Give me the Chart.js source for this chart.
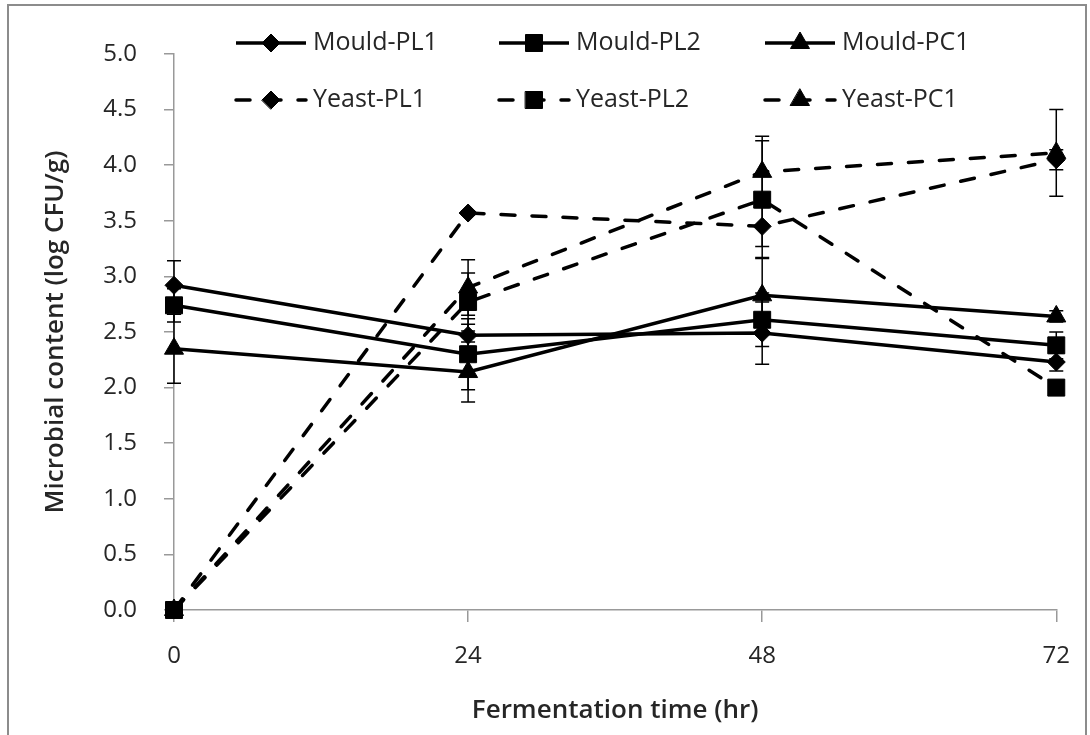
<!DOCTYPE html>
<html>
<head>
<meta charset="utf-8">
<title>Microbial content</title>
<script src="https://cdn.jsdelivr.net/npm/chart.js@4.4.1/dist/chart.umd.min.js"></script>
<style>
  body { margin: 0; background: #fff; }
  #wrap { position: absolute; left: 0; top: 0; width: 1090px; height: 735px; }
</style>
</head>
<body>
<div id="wrap"><canvas id="myChart" width="1090" height="735"></canvas></div>
<script>
// Data
const hours = [0, 24, 48, 72];
const yTicks = [0, 0.5, 1, 1.5, 2, 2.5, 3, 3.5, 4, 4.5, 5];

const mouldPL1 = [2.92, 2.47, 2.49, 2.23];
const mouldPL2 = [2.74, 2.30, 2.61, 2.38];
const mouldPC1 = [2.35, 2.14, 2.83, 2.64];
const yeastPL1 = [0, 3.57, 3.45, 4.05];
const yeastPL2 = [0, 2.77, 3.69, 2.00];
const yeastPC1 = [0, 2.90, 3.94, 4.11];

// error bars (+/-)
const mouldPL1Err = [0.22, 0.10, 0.28, 0.08];
const mouldPL2Err = [0.15, 0.32, 0.24, 0.12];
const mouldPC1Err = [0.31, 0.27, 0.34, 0.05];
const yeastPL1Err = [0, 0.02, 0.18, 0.09];
const yeastPL2Err = [0, 0.26, 0.53, 0.05];
const yeastPC1Err = [0, 0.25, 0.32, 0.39];

const seriesNames = ['Mould-PL1', 'Mould-PL2', 'Mould-PC1', 'Yeast-PL1', 'Yeast-PL2', 'Yeast-PC1'];

const FONT = "'Open Sans', 'Noto Sans', sans-serif";
const DASH = [14, 17];
const markers = {
    diamond: { pointStyle: 'rectRot', radius: 9 },
    square: { pointStyle: 'rect', radius: 12 },
    triangle: { pointStyle: 'triangle', radius: 11 }
};

function makeSet(name, values, errs, marker, dashed) {
    return {
        label: name,
        data: hours.map(function (h, i) { return { x: h, y: values[i] }; }),
        errors: errs,
        borderColor: '#000',
        backgroundColor: '#000',
        borderWidth: 3.5,
        borderDash: dashed ? DASH : [],
        borderCapStyle: dashed ? 'round' : 'butt',
        pointStyle: markers[marker].pointStyle,
        pointRadius: markers[marker].radius,
        pointHoverRadius: markers[marker].radius,
        pointBorderWidth: 1,
        pointBackgroundColor: '#000',
        pointBorderColor: '#000',
        tension: 0,
        fill: false,
        clip: false
    };
}

const datasets = [
    makeSet(seriesNames[0], mouldPL1, mouldPL1Err, 'diamond', false),
    makeSet(seriesNames[1], mouldPL2, mouldPL2Err, 'square', false),
    makeSet(seriesNames[2], mouldPC1, mouldPC1Err, 'triangle', false),
    makeSet(seriesNames[3], yeastPL1, yeastPL1Err, 'diamond', true),
    makeSet(seriesNames[4], yeastPL2, yeastPL2Err, 'square', true),
    makeSet(seriesNames[5], yeastPC1, yeastPC1Err, 'triangle', true)
];

// outer frame of the chart
const framePlugin = {
    id: 'frame',
    beforeDraw(chart) {
        const ctx = chart.ctx;
        ctx.save();
        ctx.fillStyle = '#fff';
        ctx.fillRect(0, 0, chart.width, chart.height);
        ctx.strokeStyle = '#8c8c8c';
        ctx.lineWidth = 2;
        ctx.strokeRect(8, 5, 1078, 745);
        ctx.restore();
    }
};

// vertical error bars with caps
const errorBarPlugin = {
    id: 'errorBars',
    beforeDatasetsDraw(chart) {
        const ctx = chart.ctx;
        const xs = chart.scales.x, ys = chart.scales.y;
        ctx.save();
        ctx.strokeStyle = '#000';
        ctx.lineWidth = 1.5;
        chart.data.datasets.forEach(function (ds) {
            ds.data.forEach(function (p, i) {
                const e = ds.errors[i];
                if (!e) return;
                const x = xs.getPixelForValue(p.x);
                const top = ys.getPixelForValue(p.y + e);
                const bot = ys.getPixelForValue(p.y - e);
                ctx.beginPath();
                ctx.moveTo(x, top); ctx.lineTo(x, bot);
                ctx.moveTo(x - 7, top); ctx.lineTo(x + 7, top);
                ctx.moveTo(x - 7, bot); ctx.lineTo(x + 7, bot);
                ctx.stroke();
            });
        });
        ctx.restore();
    }
};

// Excel style legend: line segment with marker, 3 columns x 2 rows
const legendPlugin = {
    id: 'excelLegend',
    afterDraw(chart) {
        const ctx = chart.ctx;
        const colX = [236, 499, 765];
        const rowY = [43, 100];
        const segLen = 70;
        ctx.save();
        chart.data.datasets.forEach(function (ds, i) {
            const x0 = colX[i % 3];
            const y = rowY[Math.floor(i / 3)];
            ctx.strokeStyle = '#000';
            ctx.lineWidth = ds.borderWidth;
            ctx.lineCap = ds.borderCapStyle;
            ctx.setLineDash(ds.borderDash);
            ctx.beginPath();
            ctx.moveTo(x0, y); ctx.lineTo(x0 + segLen, y);
            ctx.stroke();
            ctx.setLineDash([]);
            ctx.fillStyle = '#000';
            ctx.lineWidth = 1;
            Chart.helpers.drawPoint(ctx, {
                pointStyle: ds.pointStyle,
                radius: ds.pointRadius,
                rotation: 0,
                borderWidth: 1
            }, x0 + segLen / 2, y);
            ctx.fillStyle = '#262626';
            ctx.font = '25px ' + FONT;
            ctx.textBaseline = 'middle';
            ctx.textAlign = 'left';
            ctx.fillText(ds.label, x0 + segLen + 7, y);
        });
        ctx.restore();
    }
};

const config = {
    type: 'line',
    data: { datasets: datasets },
    options: {
        responsive: false,
        animation: false,
        events: [],
        layout: { padding: { left: 0, top: 54, right: 28, bottom: 0 } },
        plugins: {
            legend: { display: false },
            tooltip: { enabled: false }
        },
        scales: {
            x: {
                type: 'linear',
                min: 0,
                max: 72,
                afterFit(scale) { scale.height = 125; },
                afterBuildTicks(scale) { scale.ticks = hours.map(function (v) { return { value: v }; }); },
                ticks: {
                    color: '#262626',
                    font: { family: FONT, size: 24 },
                    padding: 20,
                    maxRotation: 0
                },
                grid: { drawOnChartArea: false, tickLength: 12, color: '#999', lineWidth: 1.5 },
                border: { color: '#999', width: 1.5 },
                title: {
                    display: true,
                    text: 'Fermentation time (hr)',
                    color: '#262626',
                    font: { family: FONT, size: 26, weight: '600' },
                    padding: { top: 0, bottom: 9 }
                }
            },
            y: {
                min: 0,
                max: 5,
                afterFit(scale) { scale.width = 174; },
                afterBuildTicks(scale) { scale.ticks = yTicks.map(function (v) { return { value: v }; }); },
                ticks: {
                    color: '#262626',
                    font: { family: FONT, size: 24 },
                    padding: 27,
                    callback: function (v) { return Number(v).toFixed(1); }
                },
                grid: { drawOnChartArea: false, tickLength: 10, color: '#999', lineWidth: 1.5 },
                border: { color: '#999', width: 1.5 },
                title: {
                    display: true,
                    text: 'Microbial content (log CFU/g)',
                    color: '#262626',
                    font: { family: FONT, size: 26, weight: '600' },
                    padding: { top: 40, bottom: 0 }
                }
            }
        }
    },
    plugins: [framePlugin, errorBarPlugin, legendPlugin]
};

const chart = new Chart(document.getElementById('myChart'), config);
</script>
</body>
</html>
